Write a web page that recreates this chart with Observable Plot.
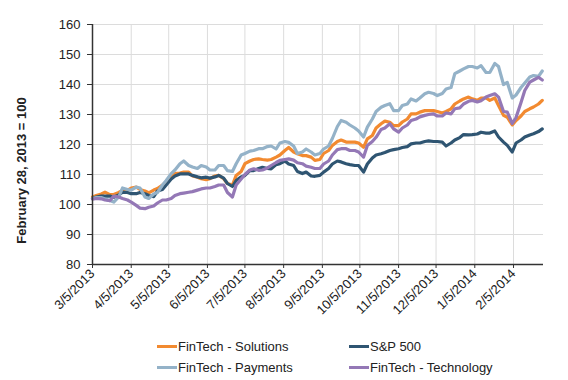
<!DOCTYPE html>
<html>
<head>
<meta charset="utf-8">
<script src="https://cdn.jsdelivr.net/npm/d3@7"></script>
<script src="https://cdn.jsdelivr.net/npm/@observablehq/plot@0.6"></script>
<style>
  html, body { margin: 0; padding: 0; background: #fff; }
  body { width: 568px; height: 380px; overflow: hidden; font-family: "Liberation Sans", Arial, sans-serif; }
  #chart { position: relative; width: 568px; height: 380px; }
  #legend { position: absolute; left: 0; top: 336px; width: 568px; height: 44px; font-size: 13px; color: #222; }
  .item { position: absolute; display: flex; align-items: center; height: 20px; white-space: nowrap; }
  .sw { width: 20px; height: 3px; margin-right: 1px; }
</style>
</head>
<body>
<div id="chart"></div>
<script>
const dates = [
  "2013-03-05","2013-03-08","2013-03-12","2013-03-15","2013-03-19","2013-03-22","2013-03-26","2013-03-29",
  "2013-04-02","2013-04-05","2013-04-09","2013-04-12","2013-04-16","2013-04-19","2013-04-23","2013-04-26","2013-04-30",
  "2013-05-03","2013-05-07","2013-05-10","2013-05-14","2013-05-17","2013-05-21","2013-05-24","2013-05-28","2013-05-31",
  "2013-06-04","2013-06-07","2013-06-11","2013-06-14","2013-06-18","2013-06-21","2013-06-25","2013-06-28",
  "2013-07-02","2013-07-05","2013-07-09","2013-07-12","2013-07-16","2013-07-19","2013-07-23","2013-07-26","2013-07-30",
  "2013-08-02","2013-08-06","2013-08-09","2013-08-13","2013-08-16","2013-08-20","2013-08-23","2013-08-27","2013-08-30",
  "2013-09-03","2013-09-06","2013-09-10","2013-09-13","2013-09-17","2013-09-20","2013-09-24","2013-09-27",
  "2013-10-01","2013-10-04","2013-10-08","2013-10-11","2013-10-15","2013-10-18","2013-10-22","2013-10-25","2013-10-29",
  "2013-11-01","2013-11-05","2013-11-08","2013-11-12","2013-11-15","2013-11-19","2013-11-22","2013-11-26","2013-11-29",
  "2013-12-03","2013-12-06","2013-12-10","2013-12-13","2013-12-17","2013-12-20","2013-12-24","2013-12-27","2013-12-31",
  "2014-01-03","2014-01-07","2014-01-10","2014-01-14","2014-01-17","2014-01-21","2014-01-24","2014-01-28","2014-01-31",
  "2014-02-04","2014-02-07","2014-02-11","2014-02-14","2014-02-18","2014-02-21","2014-02-25","2014-02-28"
];

const solutions = [
  102.5,103.0, 103.5,104.1, 103.3,103.3, 104.0,104.7, 104.7,105.5, 105.8,105.0, 104.5,103.9, 104.8,105.3,
  106.5,107.5, 109.7,110.3, 110.5,110.8, 110.8,109.5, 109.1,108.6, 108.3,108.6, 109.5,109.7, 108.6,107.0,
  106.5,109.7, 111.0,113.6, 114.5,115.0, 115.2,115.0, 114.8,115.0, 115.8,116.5, 118.0,119.0, 117.5,116.9,
  116.3,116.3, 115.8,114.7, 115.0,117.0, 118.0,119.7, 121.0,121.5, 120.8,120.8, 120.8,120.5, 119.1,121.9,
  123.0,125.5, 126.9,127.8, 127.4,126.3, 126.3,127.5, 128.5,130.2, 130.2,130.8, 131.3,131.3, 131.3,131.0,
  130.5,131.0, 131.9,133.5, 134.5,135.2, 135.8,135.2, 134.7,135.5, 135.5,134.7, 135.5,133.0, 129.7,129.1,
  126.5,128.0, 129.5,131.0, 131.9,132.5, 133.5, 134.7
];
const sp500 = [
  102.0,102.5, 102.8,102.8, 102.8,102.4, 103.2,104.1, 104.0,103.6, 103.6,104.0, 103.6,103.0, 102.6,104.5,
  105.0,106.5, 108.5,109.5, 110.2,110.2, 110.2,109.7, 109.2,108.9, 109.1,108.8, 109.2,109.7, 108.8,107.0,
  106.0,108.0, 109.2,109.7, 111.3,111.3, 112.0,112.4, 112.0,111.9, 113.3,113.6, 114.5,113.5, 113.0,111.0,
  110.3,110.8, 109.5,109.4, 109.7,110.8, 112.0,113.5, 114.5,114.2, 113.6,113.3, 113.0,113.0, 110.8,113.5,
  115.5,116.5, 116.9,117.3, 118.0,118.3, 118.6,119.0, 119.3,120.2, 120.5,120.5, 121.0,121.2, 121.0,121.0,
  120.8,119.5, 120.5,121.5, 122.3,123.3, 123.2,123.3, 123.5,124.1, 123.8,123.8, 124.5,122.5, 120.8,119.7,
  117.5,120.5, 121.5,122.5, 123.2,123.6, 124.3, 125.2
];
const payments = [
  102.0,102.3, 102.3,101.8, 101.3,100.8, 102.5,105.5, 105.0,104.8, 105.8,105.5, 102.5,102.0, 103.5,104.0,
  106.5,108.0, 110.3,111.5, 113.6,114.5, 113.0,112.5, 112.0,113.0, 112.5,111.5, 111.5,113.0, 113.0,111.3,
  111.0,113.6, 116.5,117.0, 117.8,118.0, 118.6,118.6, 119.3,119.5, 118.5,120.5, 121.0,120.7, 119.5,117.0,
  117.5,118.5, 117.5,116.5, 117.0,118.5, 119.5,122.0, 126.0,128.0, 127.4,126.5, 125.5,124.5, 122.5,125.8,
  128.5,131.0, 132.4,133.0, 133.6,131.3, 131.3,133.0, 133.5,135.2, 134.5,135.5, 136.9,137.4, 137.0,136.3,
  137.0,138.5, 139.0,143.6, 144.5,145.2, 146.0,146.0, 145.5,146.3, 144.0,144.0, 147.0,146.0, 140.0,140.7,
  135.5,136.5, 139.0,140.5, 142.5,143.0, 142.7, 144.5
];
const technology = [
  101.8,102.0, 101.9,101.5, 101.3,102.8, 102.5,102.0, 101.5,100.8, 99.7,98.8, 98.6,99.1, 99.5,100.5,
  101.5,101.5, 102.0,103.0, 103.6,103.8, 104.1,104.3, 104.8,105.2, 105.5,105.5, 106.0,106.5, 106.5,104.0,
  102.5,106.5, 108.5,110.0, 111.5,111.9, 111.4,111.5, 112.2,113.0, 114.0,114.7, 115.0,115.2, 114.8,113.9,
  113.6,112.8, 112.4,112.0, 112.0,113.5, 114.5,116.5, 118.3,118.6, 118.6,118.0, 118.0,117.5, 115.8,119.7,
  121.0,122.4, 125.0,125.5, 126.9,125.2, 124.1,125.5, 126.5,128.0, 128.5,129.2, 129.7,130.0, 130.2,129.5,
  129.5,130.5, 130.2,131.9, 132.2,133.5, 134.4,134.7, 134.2,134.6, 135.8,136.3, 136.9,135.8, 131.0,130.8,
  127.0,129.0, 134.0,138.0, 140.8,141.5, 142.4, 141.5
];

const seriesNames = ["FinTech - Solutions", "S&P 500", "FinTech - Payments", "FinTech - Technology"];
const seriesColors = ["#f28a30", "#2f5572", "#94b2c8", "#9478b6"];
const seriesValues = [solutions, sp500, payments, technology];

const tickDates = ["2013-03-05","2013-04-05","2013-05-05","2013-06-05","2013-07-05","2013-08-05",
  "2013-09-05","2013-10-05","2013-11-05","2013-12-05","2014-01-05","2014-02-05"];
const yTicks = [80, 90, 100, 110, 120, 130, 140, 150, 160];
const yLabel = "February 28, 2013 = 100";

const parse = d3.utcParse("%Y-%m-%d");
const rows = [];
seriesNames.forEach((name, i) => {
  seriesValues[i].forEach((v, j) => rows.push({series: name, date: parse(dates[j]), value: v}));
});
const xTicks = tickDates.map(parse);
const fmt = d => `${d.getUTCMonth() + 1}/${d.getUTCDate()}/${d.getUTCFullYear()}`;

const plot = Plot.plot({
  width: 568,
  height: 336,
  marginLeft: 92,
  marginRight: 25,
  marginTop: 24,
  marginBottom: 72,
  style: {fontFamily: "'Liberation Sans', Arial, sans-serif", fontSize: "13px", color: "#222", background: "#fff"},
  x: {type: "utc", domain: [parse("2013-03-05"), parse("2014-03-01")]},
  y: {domain: [80, 160]},
  color: {domain: seriesNames, range: seriesColors},
  marks: [
    Plot.gridX(xTicks, {stroke: "#dcdcdc", strokeOpacity: 1, strokeWidth: 1}),
    Plot.gridY(yTicks, {stroke: "#dcdcdc", strokeOpacity: 1, strokeWidth: 1}),
    Plot.lineY(rows, {x: "date", y: "value", z: "series", stroke: "series", strokeWidth: 3.2, strokeLinejoin: "round"}),
    Plot.axisX({ticks: xTicks, tickFormat: fmt, tickRotate: -45, tickSize: 4, tickPadding: 3, stroke: "#333"}),
    Plot.axisY({ticks: yTicks, tickSize: 5, tickPadding: 7, label: null, stroke: "#333"}),
    Plot.ruleX([parse("2013-03-05")], {stroke: "#333", strokeWidth: 1.5}),
    Plot.ruleY([80], {stroke: "#333", strokeWidth: 1.5}),
    Plot.text([yLabel], {frameAnchor: "left", textAnchor: "middle", rotate: -90, dx: -71, dy: 26, fontWeight: "bold", fontSize: 13, fill: "#222"})
  ]
});
document.getElementById("chart").appendChild(plot);

const legend = document.createElement("div");
legend.id = "legend";
const pos = [[157, 0], [349, 0], [157, 21], [349, 21]];
seriesNames.forEach((name, i) => {
  const it = document.createElement("div");
  it.className = "item";
  it.style.left = pos[i][0] + "px";
  it.style.top = pos[i][1] + "px";
  const sw = document.createElement("span");
  sw.className = "sw";
  sw.style.background = seriesColors[i];
  const tx = document.createElement("span");
  tx.textContent = name;
  it.appendChild(sw);
  it.appendChild(tx);
  legend.appendChild(it);
});
document.getElementById("chart").appendChild(legend);
</script>
</body>
</html>
